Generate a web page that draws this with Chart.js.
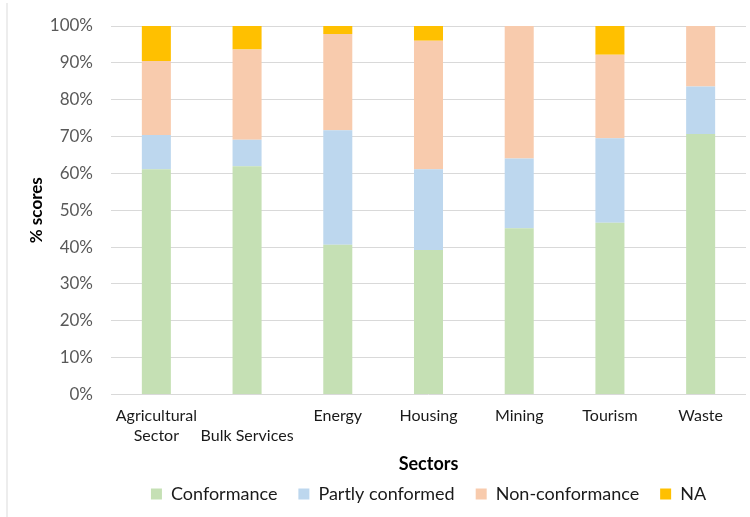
<!DOCTYPE html>
<html>
<head>
<meta charset="utf-8">
<script src="https://cdn.jsdelivr.net/npm/chart.js@4"></script>
<style>
  html, body { margin: 0; padding: 0; background: #fff; }
  #wrap { width: 750px; height: 517px; position: relative; }
  #edge { position: absolute; left: 6px; top: 3px; bottom: 0; width: 2px; background: #EDEDED; }
</style>
</head>
<body>
<div id="wrap"><div id="edge"></div><canvas id="chart" width="750" height="517"></canvas></div>
<script>
const sectors = [['Agricultural', 'Sector'], ['', 'Bulk Services'], 'Energy', 'Housing', 'Mining', 'Tourism', 'Waste'];
const conformance = [61.1, 61.9, 40.6, 39.2, 45.1, 46.6, 70.7];
const partlyConformed = [9.3, 7.2, 31.1, 21.9, 18.9, 22.9, 12.9];
const nonConformance = [20.1, 24.5, 26.1, 34.9, 36.0, 22.7, 16.4];
const notApplicable = [9.5, 6.4, 2.2, 4.0, 0, 7.8, 0];

Chart.defaults.font.family = 'Lato, "Open Sans", sans-serif';
Chart.defaults.color = '#595959';

const ctx = document.getElementById('chart').getContext('2d');
new Chart(ctx, {
    type: 'bar',
    data: {
        labels: sectors,
        datasets: [
            { label: 'Conformance', data: conformance, backgroundColor: '#C5E0B4' },
            { label: 'Partly conformed', data: partlyConformed, backgroundColor: '#BDD7EE' },
            { label: 'Non-conformance', data: nonConformance, backgroundColor: '#F8CBAD' },
            { label: 'NA', data: notApplicable, backgroundColor: '#FFC000' }
        ]
    },
    options: {
        responsive: false,
        animation: false,
        categoryPercentage: 1,
        barPercentage: 0.32,
        layout: { padding: { left: 26, right: 4, top: 26, bottom: 4 } },
        scales: {
            x: {
                stacked: true,
                grid: { display: false, drawTicks: false },
                border: { display: false },
                ticks: { font: { size: 16, lineHeight: 1.25 }, color: '#1a1a1a', padding: 11, maxRotation: 0, autoSkip: false },
                title: { display: true, text: 'Sectors', font: { size: 18, weight: 'bold' }, color: '#000', padding: { top: -3, bottom: -11 } },
                afterFit: function (scale) { scale.paddingLeft = 0; scale.paddingRight = 0; }
            },
            y: {
                stacked: true,
                min: 0,
                max: 100,
                grid: { color: '#D9D9D9', drawTicks: false },
                border: { display: false },
                ticks: { stepSize: 10, font: { size: 17 }, padding: 18, callback: v => v + '%' },
                title: { display: true, text: '% scores', font: { size: 17, weight: 'bold' }, color: '#000', padding: { top: 0, bottom: 4 } },
                // fixed axis width so the plot starts where the reference does
                afterFit: function (scale) { scale.width = 85; scale.paddingTop = 0; scale.paddingBottom = 0; }
            }
        },
        plugins: {
            legend: {
                position: 'bottom',
                fullSize: false,
                labels: { boxWidth: 11, boxHeight: 11, font: { size: 18 }, color: '#1a1a1a', padding: 21 }
            },
            tooltip: { enabled: false }
        }
    }
});
</script>
</body>
</html>
